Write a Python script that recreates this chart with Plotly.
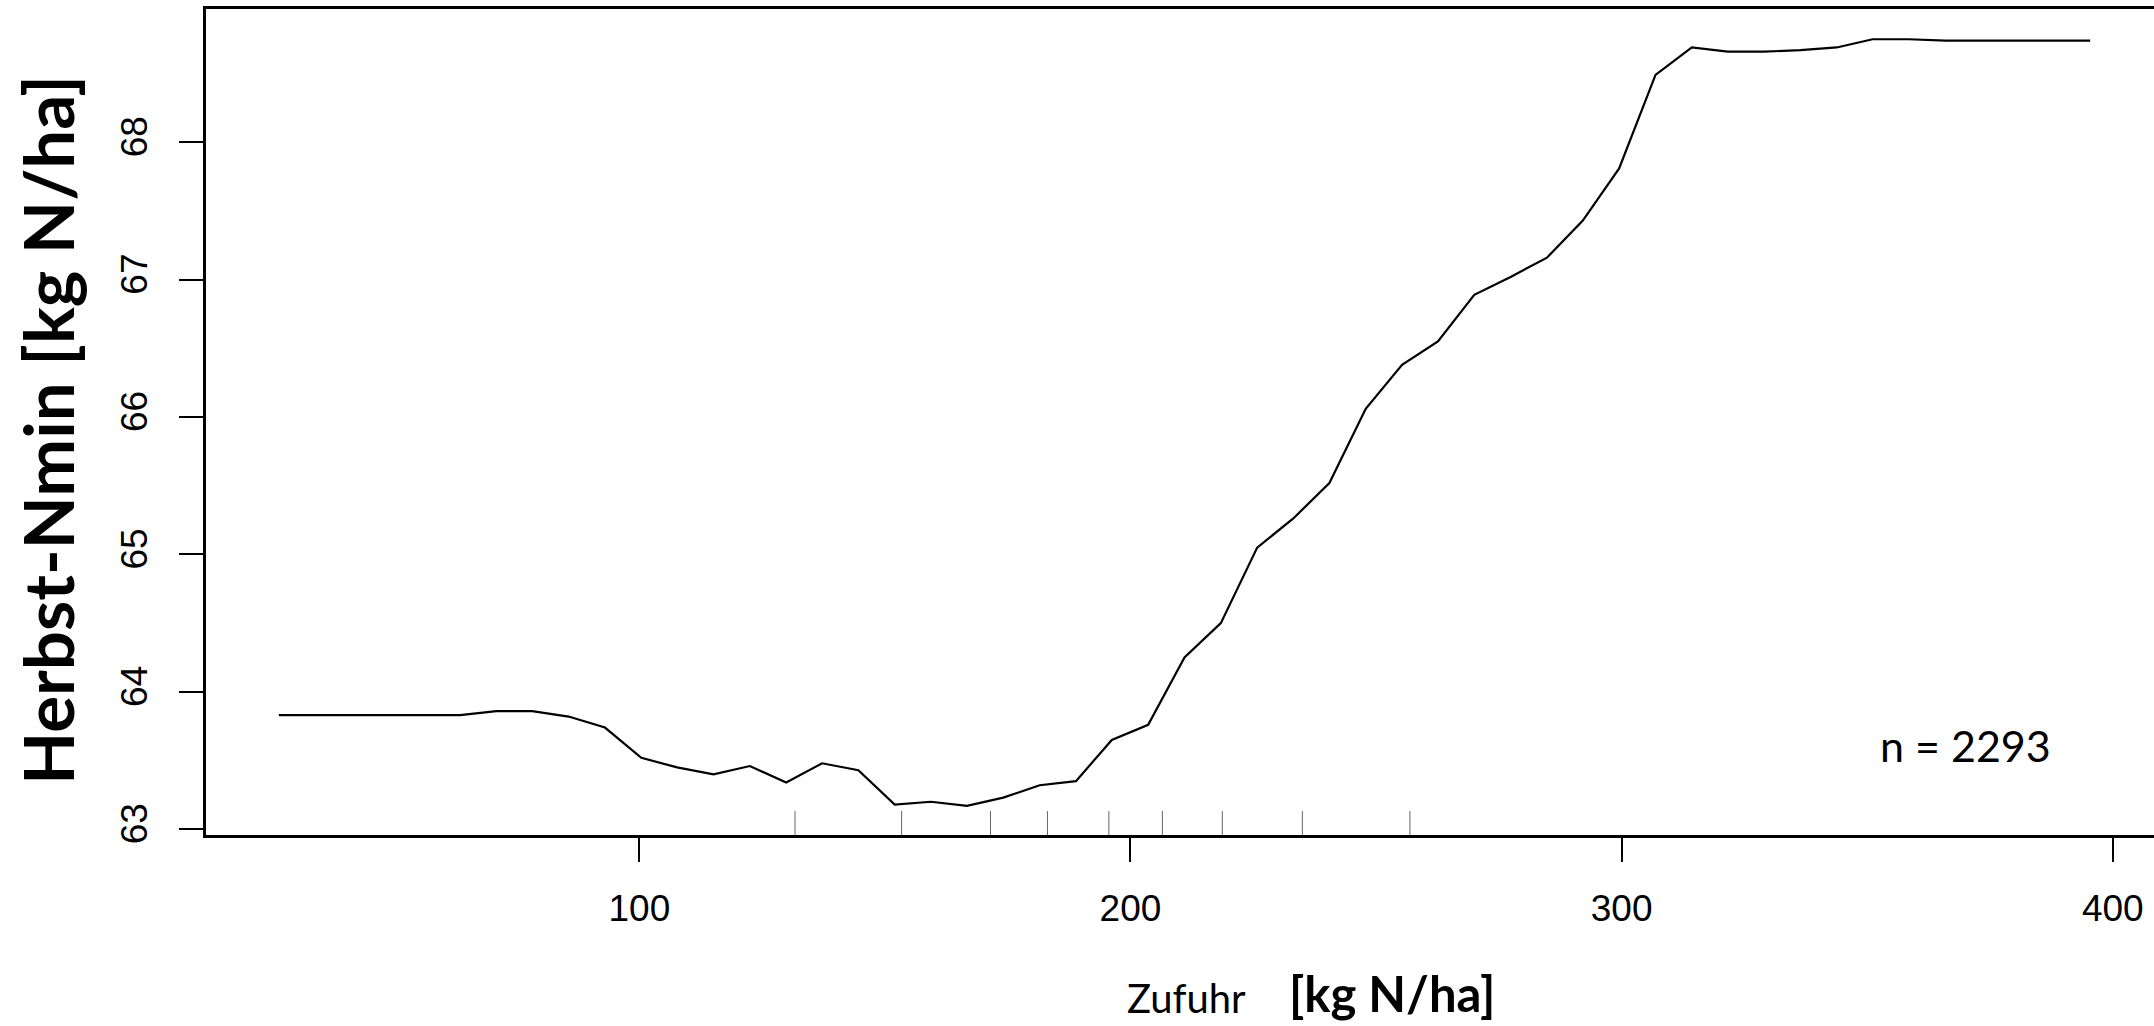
import plotly.graph_objects as go

# Partial dependence: Zufuhr (kg N/ha) -> Herbst-Nmin (kg N/ha)
zufuhr = [26.6, 34.0, 41.4, 48.7, 56.1, 63.5, 70.9, 78.2, 85.6, 93.0,
          100.4, 107.7, 115.1, 122.5, 129.9, 137.2, 144.6, 152.0, 159.4, 166.7,
          174.1, 181.5, 188.9, 196.2, 203.6, 211.0, 218.4, 225.8, 233.1, 240.5,
          247.9, 255.3, 262.6, 270.0, 277.4, 284.8, 292.1, 299.5, 306.9, 314.3,
          321.6, 329.0, 336.4, 343.8, 351.1, 358.5, 365.9, 373.3, 380.6, 388.0,
          395.4]
herbst_nmin = [63.83, 63.83, 63.83, 63.83, 63.83, 63.83, 63.86, 63.86, 63.82, 63.74,
               63.52, 63.45, 63.40, 63.46, 63.34, 63.48, 63.43, 63.18, 63.20, 63.17,
               63.23, 63.32, 63.35, 63.65, 63.76, 64.25, 64.50, 65.05, 65.26, 65.52,
               66.06, 66.38, 66.55, 66.89, 67.02, 67.16, 67.43, 67.81, 68.49, 68.69,
               68.66, 68.66, 68.67, 68.69, 68.75, 68.75, 68.74, 68.74, 68.74, 68.74,
               68.74]
# rug: deciles of Zufuhr
rug_deciles = [131.7, 153.4, 171.5, 183.1, 195.6, 206.5, 218.7, 235.0, 256.9]

x_ticks = [100, 200, 300, 400]
y_ticks = [63, 64, 65, 66, 67, 68]
n_label = "n = 2293"

fig = go.Figure()
fig.add_trace(go.Scatter(x=zufuhr, y=herbst_nmin, mode="lines",
                         line=dict(color="black", width=2.2), showlegend=False,
                         hoverinfo="x+y"))

for d in rug_deciles:
    fig.add_shape(type="line", xref="x", yref="y domain", x0=d, x1=d, y0=0, y1=0.029,
                  line=dict(color="#666666", width=1))

tickfont = dict(family="Liberation Sans, Arial, sans-serif", size=37, color="black")

fig.update_layout(
    width=2154, height=1026,
    margin=dict(l=206, r=0, t=9, b=191),
    paper_bgcolor="white", plot_bgcolor="white",
    showlegend=False,
    xaxis=dict(range=[11.77, 408.4], tickvals=x_ticks, ticktext=[str(v) for v in x_ticks],
               ticks="outside", ticklen=24, tickwidth=2, tickcolor="black",
               showline=True, linecolor="black", linewidth=2.5, mirror=True,
               showgrid=False, zeroline=False, tickfont=tickfont,
               ticklabelstandoff=15, automargin=False),
    yaxis=dict(range=[62.958, 68.97], tickvals=y_ticks, ticktext=[str(v) for v in y_ticks],
               ticks="outside", ticklen=24, tickwidth=2, tickcolor="black",
               showline=True, linecolor="black", linewidth=2.5, mirror=False,
               showgrid=False, zeroline=False, tickfont=tickfont, tickangle=-90,
               ticklabelstandoff=17, automargin=False),
)

title_font = "Lato, Calibri, sans-serif"
fig.add_annotation(text="<b>Herbst-Nmin [kg N/ha]</b>", textangle=-90,
                   xref="paper", yref="paper", x=-0.0814, y=0.491,
                   xanchor="center", yanchor="middle", showarrow=False,
                   font=dict(family=title_font, size=69, color="black"))
fig.add_annotation(text="Zufuhr", xref="paper", yref="paper", x=0.4718, y=-0.2288,
                   xanchor="left", yanchor="bottom", showarrow=False,
                   font=dict(family=title_font, size=40, color="black"))
fig.add_annotation(text="<b>[kg N/ha]</b>", xref="paper", yref="paper", x=0.5549, y=-0.2288,
                   xanchor="left", yanchor="bottom", showarrow=False,
                   font=dict(family=title_font, size=49, color="black"))
fig.add_annotation(text=n_label, xref="x", yref="y", x=370, y=63.61,
                   xanchor="center", yanchor="middle", showarrow=False,
                   font=dict(family=title_font, size=43, color="black"))

fig.write_html(
    "out.html",
    config={"displayModeBar": False},
    post_script="document.body.style.margin='0';document.body.style.overflow='hidden';",
)
